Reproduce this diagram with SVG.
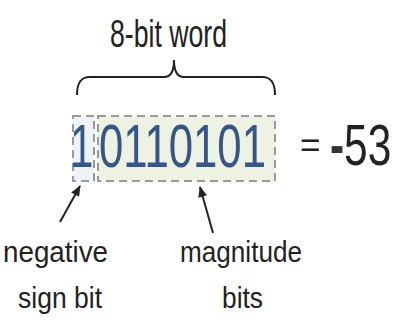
<svg xmlns="http://www.w3.org/2000/svg" width="394" height="322" viewBox="0 0 394 322">
<style>
.lbl{font-family:"Liberation Sans",Arial,sans-serif;fill:#222;}
.bit{font-family:"Liberation Sans",Arial,sans-serif;fill:#34568a;font-size:61px;}
.box{stroke:#9a9a9a;stroke-width:2;stroke-dasharray:8 5;}
.con{stroke:#222;stroke-width:2;fill:none;}
</style>
<defs>
<marker id="ah" viewBox="0 0 12 10" refX="11" refY="5" markerWidth="6" markerHeight="4.5" orient="auto" markerUnits="strokeWidth">
<path d="M0,0 L12,5 L0,10 z" fill="#222"/>
</marker>
</defs>
<rect width="394" height="322" fill="#ffffff"/>
<g id="title">
<text class="lbl" x="110" y="47" font-size="39" textLength="117" lengthAdjust="spacingAndGlyphs" fill="#333">8-bit word</text>
</g>
<g id="sign-bit">
<rect class="box" x="73" y="116" width="21" height="65" fill="#eef3fa"/>
<text class="bit" transform="translate(70,167) scale(0.69,1)">1</text>
</g>
<g id="magnitude-bits">
<rect class="box" x="98" y="116" width="177" height="65" fill="#eef2e3"/>
<text class="bit" transform="translate(99,167) scale(0.717,1)">0110101</text>
</g>
<g id="result">
<text class="lbl" x="300" y="157" font-size="35" fill="#777">=</text>
<text class="lbl" font-size="58" fill="#555" transform="translate(330,165) scale(0.73,1)"><tspan fill="#333" font-weight="bold">-</tspan>53</text>
</g>
<g id="label-sign">
<text class="lbl" x="3" y="262" font-size="29" textLength="105" lengthAdjust="spacingAndGlyphs">negative</text>
<text class="lbl" x="18" y="308" font-size="29" textLength="84" lengthAdjust="spacingAndGlyphs">sign bit</text>
</g>
<g id="label-magnitude">
<text class="lbl" x="180" y="262" font-size="29" textLength="122" lengthAdjust="spacingAndGlyphs">magnitude</text>
<text class="lbl" x="222" y="308" font-size="29" textLength="41" lengthAdjust="spacingAndGlyphs">bits</text>
</g>
<g id="connectors">
<path class="con" d="M77,95 C77,84 80,77 90,77 L164,77 C171,77 174,70 174,60 C174,70 177,77 184,77 L262,77 C272,77 275,84 275,95"/>
<line class="con" x1="60" y1="222" x2="80" y2="186" marker-end="url(#ah)"/>
<line class="con" x1="213" y1="233" x2="200" y2="187" marker-end="url(#ah)"/>
</g>
</svg>
